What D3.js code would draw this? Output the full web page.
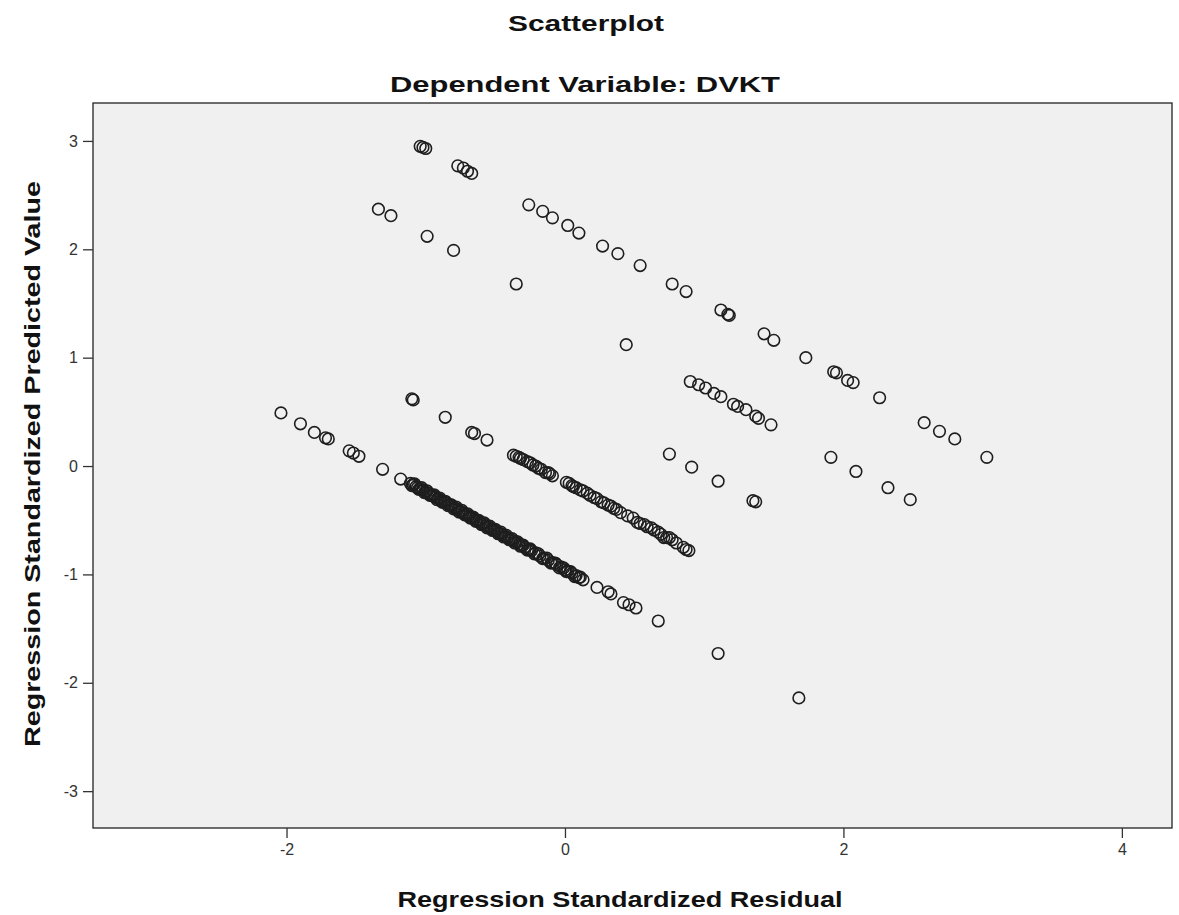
<!DOCTYPE html>
<html><head><meta charset="utf-8">
<script src="https://cdn.jsdelivr.net/npm/d3@7"></script>
<style>
html,body{margin:0;padding:0;background:#fff;}
svg{display:block;font-family:"Liberation Sans",Arial,sans-serif;}
</style></head>
<body><svg id="chart" width="1179" height="915"></svg>
<script>
// ---- Data ----
const chartTitle = "Scatterplot";
const chartSubtitle = "Dependent Variable: DVKT";
const xAxisTitle = "Regression Standardized Residual";
const yAxisTitle = "Regression Standardized Predicted Value";
const xTicks = [-2, 0, 2, 4];
const yTicks = [-3, -2, -1, 0, 1, 2, 3];

// residual values
const residuals = [
  // upper-left cluster
  -1.04,-1.02,-1.00,-0.77,-0.73,-0.70,-0.67,-1.34,-1.25,-0.99,-0.80,-0.35,
  // upper diagonal
  -0.26,-0.16,-0.09,0.02,0.10,0.27,0.38,0.54,0.77,0.87,1.12,1.17,1.18,1.43,1.50,1.73,
  1.93,1.95,2.03,2.07,2.26,2.58,2.69,2.80,3.03,0.44,
  // middle-right cluster
  0.90,0.96,1.01,1.07,1.12,1.21,1.24,1.30,1.37,1.39,1.48,
  // lower-right group
  0.75,0.91,1.10,1.35,1.37,1.91,2.09,2.32,2.48,
  // lower-left line start
  -2.04,-1.90,-1.80,-1.72,-1.70,-1.55,-1.52,-1.48,-1.31,-1.18,
  // dense lower line
  -1.11,-1.09,-1.07,-1.06,-1.04,-1.02,-1.00,-0.98,-0.96,-0.95,-0.93,-0.91,-0.89,-0.87,-0.85,
  -0.83,-0.81,-0.79,-0.77,-0.75,-0.73,-0.71,-0.69,-0.67,-0.65,-0.63,-0.61,-0.59,-0.57,-0.55,
  -0.53,-0.51,-0.49,-0.47,-0.45,-0.43,-0.41,-0.39,-0.37,-0.35,-0.33,-0.31,-0.29,-0.26,-0.24,
  -0.21,-0.18,-0.15,-0.12,-0.09,-0.06,-0.03,0.00,0.02,0.05,0.08,0.10,0.13,
  -1.10,-1.08,-1.05,-1.03,-1.01,-0.99,-0.97,-0.94,-0.92,-0.90,-0.88,-0.86,-0.84,-0.82,-0.80,
  -0.78,-0.76,-0.74,-0.72,-0.70,-0.68,-0.66,-0.64,-0.62,-0.60,-0.58,-0.56,-0.54,-0.52,-0.50,
  -0.48,-0.46,-0.44,-0.42,-0.40,-0.38,-0.36,-0.34,-0.32,-0.30,-0.27,-0.25,-0.22,-0.19,-0.16,
  -0.13,-0.10,-0.07,-0.04,-0.01,0.01,0.04,0.07,0.11,
  0.23,0.31,0.33,0.42,0.46,0.51,0.67,1.10,1.68,
  // middle line
  -1.10,-1.09,-0.86,-0.67,-0.65,-0.56,
  -0.37,-0.33,-0.30,-0.27,-0.23,-0.19,-0.14,-0.11,-0.09,0.03,0.05,0.06,0.11,0.16,0.21,0.26,
  0.28,0.31,0.35,0.40,0.49,0.52,0.57,0.59,0.62,0.67,0.71,0.75,0.77,0.85,0.89,
  -0.35,-0.32,-0.25,-0.21,-0.17,-0.12,0.01,0.08,0.13,0.18,0.23,0.33,0.37,0.45,0.54,0.64,
  0.69,0.73,0.80,0.87
];
// predicted values (same order)
const predicted = [
  2.95,2.94,2.93,2.77,2.75,2.72,2.70,2.37,2.31,2.12,1.99,1.68,
  2.41,2.35,2.29,2.22,2.15,2.03,1.96,1.85,1.68,1.61,1.44,1.40,1.39,1.22,1.16,1.00,
  0.87,0.86,0.79,0.77,0.63,0.40,0.32,0.25,0.08,1.12,
  0.78,0.75,0.72,0.67,0.64,0.57,0.55,0.52,0.46,0.44,0.38,
  0.11,-0.01,-0.14,-0.32,-0.33,0.08,-0.05,-0.20,-0.31,
  0.49,0.39,0.31,0.26,0.25,0.14,0.12,0.09,-0.03,-0.12,
  -0.16,-0.17,-0.19,-0.20,-0.21,-0.22,-0.24,-0.25,-0.27,-0.27,-0.29,-0.30,-0.32,-0.33,-0.34,
  -0.36,-0.37,-0.39,-0.40,-0.42,-0.43,-0.45,-0.46,-0.47,-0.49,-0.50,-0.52,-0.53,-0.55,-0.56,
  -0.58,-0.59,-0.60,-0.62,-0.63,-0.65,-0.66,-0.68,-0.69,-0.70,-0.72,-0.73,-0.75,-0.77,-0.78,
  -0.80,-0.83,-0.85,-0.87,-0.89,-0.91,-0.93,-0.96,-0.97,-0.99,-1.01,-1.03,-1.05,
  -0.18,-0.165,-0.215,-0.20,-0.245,-0.23,-0.27,-0.265,-0.31,-0.295,-0.335,-0.325,-0.365,-0.355,-0.395,
  -0.38,-0.425,-0.41,-0.45,-0.44,-0.48,-0.47,-0.51,-0.50,-0.54,-0.525,-0.57,-0.555,-0.595,-0.585,
  -0.625,-0.61,-0.655,-0.64,-0.68,-0.67,-0.71,-0.70,-0.74,-0.73,-0.775,-0.765,-0.81,-0.81,-0.855,
  -0.85,-0.895,-0.895,-0.94,-0.94,-0.975,-0.975,-1.02,-1.025,
  -1.12,-1.16,-1.18,-1.26,-1.28,-1.31,-1.43,-1.73,-2.14,
  0.62,0.61,0.45,0.31,0.30,0.24,
  0.10,0.08,0.06,0.04,0.01,-0.02,-0.06,-0.07,-0.09,-0.16,-0.18,-0.19,-0.22,-0.25,-0.29,-0.33,
  -0.34,-0.36,-0.39,-0.43,-0.48,-0.52,-0.54,-0.56,-0.57,-0.61,-0.66,-0.66,-0.68,-0.75,-0.78,
  0.09,0.07,0.03,0.00,-0.03,-0.06,-0.15,-0.20,-0.23,-0.27,-0.30,-0.37,-0.40,-0.46,-0.53,-0.59,
  -0.63,-0.66,-0.71,-0.77
];

// ---- Layout ----
const plot = {left: 93, right: 1172, top: 103, bottom: 828};
const svg = d3.select("#chart");

const x = d3.scaleLinear().domain([-3.39, 4.36]).range([plot.left, plot.right]);
const y = d3.scaleLinear().domain([-3.34, 3.35]).range([plot.bottom, plot.top]);

// plot background
svg.append("rect")
  .attr("x", plot.left).attr("y", plot.top)
  .attr("width", plot.right - plot.left).attr("height", plot.bottom - plot.top)
  .attr("fill", "#f0f0f0").attr("stroke", "#222").attr("stroke-width", 1.3);

// axes
const fmt = d => String(d);
const xAxis = d3.axisBottom(x).tickValues(xTicks).tickSize(10).tickPadding(6).tickFormat(fmt);
const yAxis = d3.axisLeft(y).tickValues(yTicks).tickSize(10).tickPadding(5).tickFormat(fmt);

const gx = svg.append("g").attr("transform", `translate(0,${plot.bottom})`).call(xAxis);
const gy = svg.append("g").attr("transform", `translate(${plot.left},0)`).call(yAxis);
[gx, gy].forEach(g => {
  g.select(".domain").remove();
  g.selectAll(".tick line").attr("stroke", "#333").attr("stroke-width", 1.3);
  g.selectAll(".tick text").attr("fill", "#333").style("font-size", "16px")
    .style("font-family", "'Liberation Sans', Arial, sans-serif");
});

// points
const pts = residuals.map((r, i) => ({r, p: predicted[i]}));
svg.append("g").selectAll("circle").data(pts).join("circle")
  .attr("cx", d => x(d.r)).attr("cy", d => y(d.p)).attr("r", 5.8)
  .attr("fill", "none").attr("stroke", "#1e1e1e").attr("stroke-width", 1.6);

// titles
function title(txt, cx, cy, len, size, rot) {
  const t = svg.append("text").text(txt)
    .attr("text-anchor", "middle")
    .attr("font-weight", "bold").attr("font-size", size).attr("fill", "#111")
    .attr("textLength", len).attr("lengthAdjust", "spacingAndGlyphs");
  if (rot) t.attr("transform", `translate(${cx},${cy}) rotate(-90)`);
  else t.attr("x", cx).attr("y", cy);
  return t;
}
title(chartTitle, 586, 31, 156, 22);
title(chartSubtitle, 585, 92, 390, 22);
title(xAxisTitle, 620, 907, 445, 22);
title(yAxisTitle, 40, 464, 566, 22, true);
</script></body></html>
